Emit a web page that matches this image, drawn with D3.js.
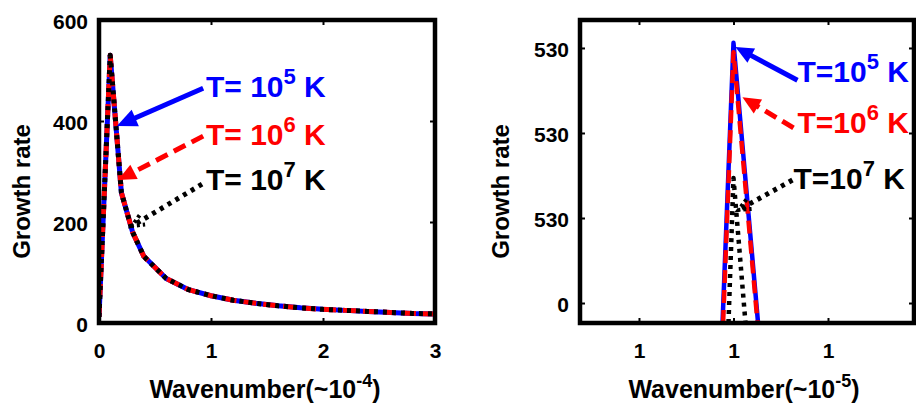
<!DOCTYPE html>
<html>
<head>
<meta charset="utf-8">
<script src="https://cdn.jsdelivr.net/npm/d3@7"></script>
<style>
  html, body { margin: 0; padding: 0; background: #fff; }
  svg { display: block; }
  text { font-family: "Liberation Sans", Arial, Helvetica, sans-serif; font-weight: bold; }
</style>
</head>
<body>
<svg id="chart" width="916" height="407"></svg>
<script>
// ---- Left panel: growth rate over the full wavenumber range ----
const waveFull = [0, 0.1, 0.2, 0.3, 0.4, 0.6, 0.8, 1.0, 1.2, 1.4, 1.6, 1.8, 2.0, 2.2, 2.4, 2.6, 2.8, 3.0];
const growthFullT5 = [12, 530, 258, 180, 132, 88, 66, 54, 45, 39, 34, 30, 27, 25, 23, 21, 19, 18];
const growthFullT6 = [12, 530, 258, 180, 132, 88, 66, 54, 45, 39, 34, 30, 27, 25, 23, 21, 19, 18];
const growthFullT7 = [12, 530, 258, 180, 132, 88, 66, 54, 45, 39, 34, 30, 27, 25, 23, 21, 19, 18];
const xTicksFull = [0, 1, 2, 3];
const yTicksFull = [0, 200, 400, 600];

// ---- Right panel: close-up around the peak ----
const wavePeakT5 = [-0.116, 0, 0.26];
const growthPeakT5 = [-0.235, 3.06, -0.235];
const wavePeakT6 = [-0.11, 0, 0.255];
const growthPeakT6 = [-0.235, 2.95, -0.235];
const wavePeakT7 = [-0.053, 0, 0.127];
const growthPeakT7 = [-0.235, 1.47, -0.235];
const xTicksPeak = [-1, 0, 1];
const xTickLabelsPeak = ["1", "1", "1"];
const yTicksPeak = [0, 1, 2, 3];
const yTickLabelsPeak = ["0", "530", "530", "530"];

const seriesLabels = ["5", "6", "7"];
const seriesColors = ["#0000ff", "#ff0000", "#000000"];

const svg = d3.select("#chart");

// line styles per temperature: solid, dashed, dotted
const styles = [
  { color: seriesColors[0], dash: null },
  { color: seriesColors[1], dash: "13,7" },
  { color: seriesColors[2], dash: "4,5" }
];

function drawPanel(cfg) {
  const g = svg.append("g");
  const x = d3.scaleLinear().domain(cfg.xDomain).range([cfg.left, cfg.right]);
  const y = d3.scaleLinear().domain(cfg.yDomain).range([cfg.bottom, cfg.top]);

  const clipId = "clip-" + cfg.id;
  svg.append("clipPath").attr("id", clipId)
    .append("rect")
    .attr("x", cfg.left).attr("y", cfg.top)
    .attr("width", cfg.right - cfg.left).attr("height", cfg.bottom - cfg.top);

  // axes with inward ticks on all four sides
  const tickLen = 5;
  const fmtX = (d, i) => cfg.xTickLabels ? cfg.xTickLabels[i] : d3.format("d")(d);
  const fmtY = (d, i) => cfg.yTickLabels ? cfg.yTickLabels[i] : d3.format("d")(d);

  const axB = g.append("g").attr("transform", `translate(0,${cfg.bottom})`)
    .call(d3.axisBottom(x).tickValues(cfg.xTicks).tickSize(-tickLen).tickPadding(20).tickFormat(fmtX));
  const axT = g.append("g").attr("transform", `translate(0,${cfg.top})`)
    .call(d3.axisTop(x).tickValues(cfg.xTicks).tickSize(-tickLen).tickFormat(""));
  const axL = g.append("g").attr("transform", `translate(${cfg.left},0)`)
    .call(d3.axisLeft(y).tickValues(cfg.yTicks).tickSize(-tickLen).tickPadding(cfg.yPad).tickFormat(fmtY));
  const axR = g.append("g").attr("transform", `translate(${cfg.right},0)`)
    .call(d3.axisRight(y).tickValues(cfg.yTicks).tickSize(-tickLen).tickFormat(""));
  [axB, axT, axL, axR].forEach(a => {
    a.select(".domain").remove();
    a.selectAll(".tick line").attr("stroke", "#000").attr("stroke-width", 2);
    a.selectAll(".tick text").attr("font-size", 21).attr("fill", "#000")
      .style("font-family", "'Liberation Sans', Arial, sans-serif").style("font-weight", "bold");
  });
  axL.selectAll(".tick text").attr("dy", "0.42em");

  // data lines
  const plot = g.append("g").attr("clip-path", `url(#${clipId})`);
  cfg.series.forEach((s, i) => {
    const pts = s.xs.map((d, j) => [d, s.ys[j]]);
    plot.append("path")
      .attr("d", d3.line().x(d => x(d[0])).y(d => y(d[1]))(pts))
      .attr("fill", "none")
      .attr("stroke", styles[i].color)
      .attr("stroke-width", cfg.lineWidth)
      .attr("stroke-linejoin", "round")
      .attr("stroke-dasharray", styles[i].dash);
  });

  // frame
  g.append("rect")
    .attr("x", cfg.left).attr("y", cfg.top)
    .attr("width", cfg.right - cfg.left).attr("height", cfg.bottom - cfg.top)
    .attr("fill", "none").attr("stroke", "#000").attr("stroke-width", 4.5);

  // axis titles
  const xt = g.append("text")
    .attr("x", (cfg.left + cfg.right) / 2 + cfg.xTitleShift).attr("y", 398)
    .attr("text-anchor", "middle").attr("font-size", 25).attr("fill", "#000");
  xt.append("tspan").text("Wavenumber(~10");
  xt.append("tspan").attr("font-size", 18).attr("dy", -11).text(cfg.xExp);
  xt.append("tspan").attr("dy", 11).text(")");

  g.append("text")
    .attr("transform", `translate(${cfg.yTitleX},${(cfg.top + cfg.bottom) / 2 + 20}) rotate(-90)`)
    .attr("text-anchor", "middle").attr("font-size", 24).attr("fill", "#000")
    .text("Growth rate");

  // annotation arrows with labels
  cfg.notes.forEach((n, i) => {
    const st = styles[i];
    const x0 = x(n.tail[0]), y0 = y(n.tail[1]);
    const x1 = x(n.tip[0]), y1 = y(n.tip[1]);
    const ang = Math.atan2(y1 - y0, x1 - x0);
    const hl = n.head, hw = n.head * 0.45;
    const bx = x1 - hl * Math.cos(ang), by = y1 - hl * Math.sin(ang);
    const px = -Math.sin(ang), py = Math.cos(ang);
    const shaft = i === 2 ? [x1, y1] : [bx + 2 * Math.cos(ang), by + 2 * Math.sin(ang)];
    g.append("line")
      .attr("x1", x0).attr("y1", y0).attr("x2", shaft[0]).attr("y2", shaft[1])
      .attr("stroke", st.color).attr("stroke-width", 5)
      .attr("stroke-dasharray", st.dash);
    if (i === 2) {
      g.append("path")
        .attr("d", `M${bx + px * hw},${by + py * hw}L${x1},${y1}L${bx - px * hw},${by - py * hw}`)
        .attr("fill", "none").attr("stroke", st.color).attr("stroke-width", 4)
        .attr("stroke-dasharray", "3,3");
    } else {
      g.append("path")
        .attr("d", `M${x1},${y1}L${bx + px * hw},${by + py * hw}L${bx - px * hw},${by - py * hw}Z`)
        .attr("fill", st.color);
    }
    const t = g.append("text")
      .attr("x", x(n.text[0])).attr("y", y(n.text[1]))
      .attr("font-size", 30).attr("fill", st.color);
    t.append("tspan").text(cfg.prefix);
    t.append("tspan").attr("font-size", 22).attr("dy", -13).text(seriesLabels[i]);
    t.append("tspan").attr("dy", 13).text(" K");
  });
}

drawPanel({
  id: "full",
  left: 99, right: 435, top: 20, bottom: 323,
  xDomain: [0, 3], yDomain: [0, 600],
  xTicks: xTicksFull, yTicks: yTicksFull, yPad: 11,
  lineWidth: 5,
  xExp: "-4", xTitleShift: -2, yTitleX: 30,
  prefix: "T= 10",
  series: [
    { xs: waveFull, ys: growthFullT5 },
    { xs: waveFull, ys: growthFullT6 },
    { xs: waveFull, ys: growthFullT7 }
  ],
  notes: [
    { tail: [0.93, 465], tip: [0.16, 390], text: [0.955, 448], head: 20 },
    { tail: [0.93, 370], tip: [0.17, 283], text: [0.955, 353], head: 18 },
    { tail: [0.92, 275], tip: [0.295, 192], text: [0.955, 263], head: 12 }
  ]
});

drawPanel({
  id: "peak",
  left: 580, right: 914, top: 20, bottom: 323,
  xDomain: [-1.624, 1.91], yDomain: [-0.235, 3.329],
  xTicks: xTicksPeak, xTickLabels: xTickLabelsPeak,
  yTicks: yTicksPeak, yTickLabels: yTickLabelsPeak, yPad: 11,
  lineWidth: 4.5,
  xExp: "-5", xTitleShift: -3, yTitleX: 509,
  prefix: "T=10",
  series: [
    { xs: wavePeakT5, ys: growthPeakT5 },
    { xs: wavePeakT6, ys: growthPeakT6 },
    { xs: wavePeakT7, ys: growthPeakT7 }
  ],
  notes: [
    { tail: [0.677, 2.62], tip: [0.02, 3.01], text: [0.677, 2.6], head: 18 },
    { tail: [0.635, 2.06], tip: [0.095, 2.42], text: [0.677, 2.0], head: 18 },
    { tail: [0.624, 1.447], tip: [0.053, 1.094], text: [0.635, 1.34], head: 12 }
  ]
});
</script>
</body>
</html>
